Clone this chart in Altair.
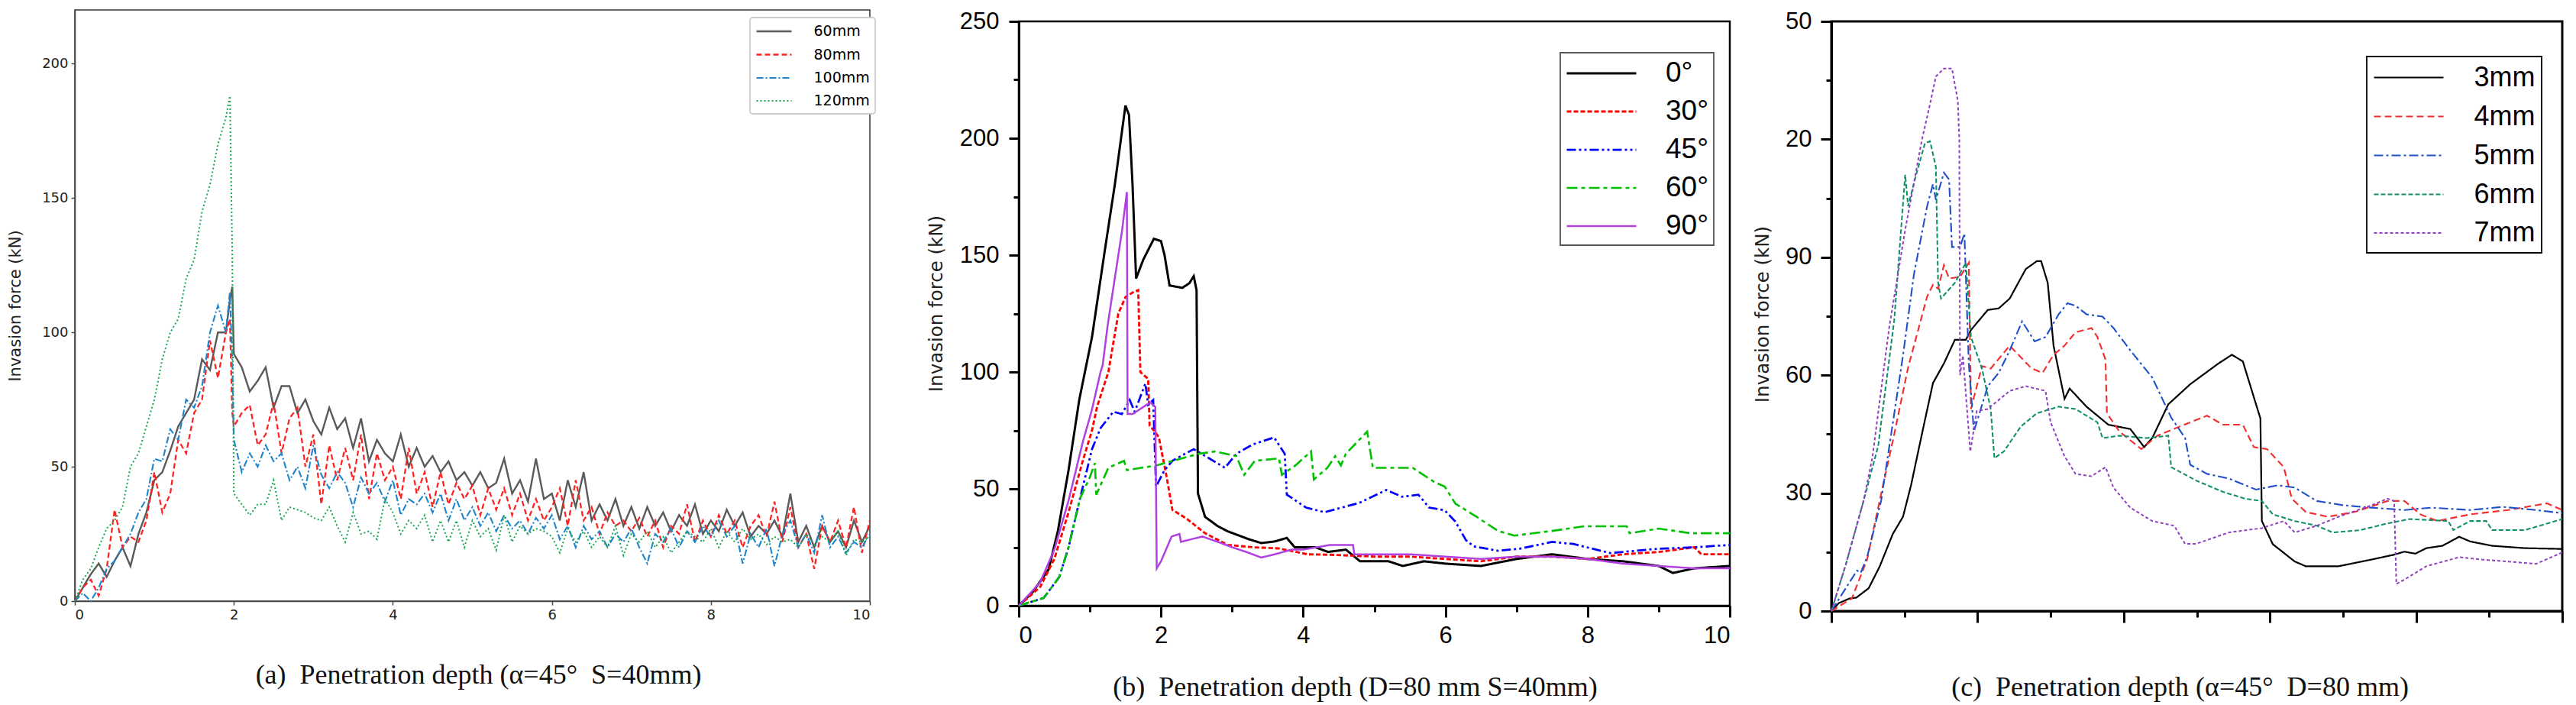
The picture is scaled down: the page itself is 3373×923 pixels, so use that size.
import altair as alt
import pandas as pd

# ---------------- Panel (a) ----------------
A_SERIES = ["60mm", "80mm", "100mm", "120mm"]
A_X = [0, 0.1, 0.2, 0.3, 0.4, 0.5, 0.6, 0.7, 0.8, 0.9, 1.0, 1.1, 1.2, 1.3, 1.4, 1.5, 1.6, 1.7, 1.8, 1.9,
       1.95, 1.98,
       2.0, 2.1, 2.2, 2.3, 2.4, 2.5, 2.6, 2.7, 2.8, 2.9,
       3.0, 3.1, 3.2, 3.3, 3.4, 3.5, 3.6, 3.7, 3.8, 3.9,
       4.0, 4.1, 4.2, 4.3, 4.4, 4.5, 4.6, 4.7, 4.8, 4.9,
       5.0, 5.1, 5.2, 5.3, 5.4, 5.5, 5.6, 5.7, 5.8, 5.9,
       6.0, 6.1, 6.2, 6.3, 6.4, 6.5, 6.6, 6.7, 6.8, 6.9,
       7.0, 7.1, 7.2, 7.3, 7.4, 7.5, 7.6, 7.7, 7.8, 7.9,
       8.0, 8.1, 8.2, 8.3, 8.4, 8.5, 8.6, 8.7, 8.8, 8.9,
       9.0, 9.1, 9.2, 9.3, 9.4, 9.5, 9.6, 9.7, 9.8, 9.9,
       10.0]
A_60 = [0, 5, 10, 14, 9, 15, 20, 13, 25, 33, 45, 48, 56, 65, 70, 75, 90, 86, 100, 100,
        112, 117,
        92, 87, 78, 82, 87, 72, 80, 80, 70, 75,
        67, 62, 72, 64, 68, 57, 68, 52, 60, 55,
        52, 62, 50, 57, 50, 54, 48, 52, 45, 48,
        43, 48, 42, 44, 53, 40, 45, 37, 53, 38,
        40, 30, 45, 35, 48, 30, 36, 30, 38, 28,
        35, 27, 35, 28, 33, 26, 32, 28, 36, 25,
        30, 26, 34, 28, 33, 24, 28, 25, 30, 24,
        40, 22, 28, 20, 28, 22, 26, 20, 30, 22,
        28]
A_80 = [0, 5, 8, 2, 12, 34, 20, 24, 22, 30, 48, 33, 40, 60, 55, 70, 75, 97, 83, 100,
        105, 70,
        65, 70, 73, 58, 62, 74, 55, 68, 72, 50,
        62, 36, 58, 45, 57, 45, 62, 38, 55, 45,
        50, 38, 57, 40, 48, 35, 48, 36, 44, 38,
        43, 32, 42, 34, 42, 32, 40, 30, 38, 30,
        35, 42, 28, 45, 30, 35, 25, 33, 28, 30,
        26, 31, 24, 30, 20, 28, 25, 36, 22, 30,
        24, 32, 25, 30, 20, 28, 32, 24, 37, 22,
        35, 20, 25, 12, 28, 22, 30, 20, 35, 18,
        30]
A_100 = [0, 3, 0, 5, 12, 15, 20, 25, 33, 38, 53, 52, 64, 60, 75, 72, 80, 100, 110, 100,
         115, 90,
         60, 48, 55, 50, 58, 52, 55, 45, 50, 42,
         58, 47, 42, 48, 44, 35, 46, 40, 44, 37,
         45, 32, 38, 36, 40, 33, 40, 30, 38, 30,
         35, 28, 33, 26, 32, 27, 30, 25, 31, 27,
         32, 23, 28, 20, 28, 23, 26, 20, 25, 22,
         27, 20, 14, 25, 22, 27, 20, 26, 22, 28,
         24, 30, 24, 28, 14, 25, 20, 27, 13, 25,
         30, 20, 25, 18, 32, 20, 24, 18, 22, 20,
         25]
A_120 = [0, 8, 12, 20, 27, 30, 35, 50, 55, 65, 75, 90, 100, 105, 120, 127, 145, 155, 170, 180,
         188, 130,
         40, 36, 32, 36, 36, 45, 30, 35, 34, 33,
         31, 30, 35, 28, 22, 33, 25, 26, 23, 38,
         33, 25, 30, 27, 32, 22, 30, 22, 30, 20,
         30, 24, 27, 19, 32, 22, 28, 25, 27, 26,
         24, 18, 27, 22, 26, 20, 24, 20, 28, 17,
         25, 22, 26, 20, 24, 18, 22, 26, 24, 22,
         27, 20, 26, 22, 27, 23, 25, 21, 24, 22,
         23, 20, 25, 21, 24, 22, 26, 17, 23, 22,
         24]
A_COLORS = ["#5a5a5a", "#ff2222", "#1f86cc", "#18a850"]
A_DASHES = [[1, 0], [7, 4], [9, 3, 2, 3], [2, 3]]
A_WIDTHS = [2.4, 2, 2, 2]

# ---------------- Panel (b) ----------------
B_SERIES = ["0°", "30°", "45°", "60°", "90°"]
B_0_X = [0, 0.2, 0.42, 0.55, 0.7, 0.85, 1.03, 1.2, 1.35, 1.5, 1.55, 1.6, 1.65, 1.75, 1.9, 2.0, 2.05, 2.12,
         2.3, 2.4, 2.46, 2.5, 2.52, 2.62, 2.8, 2.94, 3.23, 3.41, 3.6, 3.77, 3.88, 4.17, 4.35, 4.6, 4.8,
         5.2, 5.4, 5.7, 6.0, 6.5, 7.0, 7.5, 8.0, 8.5, 9.0, 9.2, 9.5, 10]
B_0_Y = [0, 6, 15.6, 32, 58, 88, 115, 150, 180, 214, 210, 180, 140, 148, 157, 156, 150, 137,
         136, 138, 141, 135, 48, 38, 34, 31.8, 28.5, 26.8, 27.5, 29, 25, 25, 23, 24, 19,
         19, 17, 19, 18, 17, 20, 22, 20, 19, 17, 14, 16, 17]
B_30_X = [0, 0.3, 0.5, 0.7, 0.9, 1.03, 1.1, 1.26, 1.4, 1.5, 1.6, 1.68, 1.71, 1.82, 1.84, 1.9, 1.97, 2.08,
          2.16, 2.27, 2.37, 2.62, 2.94, 3.3, 3.66, 4.06, 4.38, 5.0, 5.5, 6.0, 6.5, 7.0, 7.5, 8.0, 8.5,
          9.0, 9.5, 9.6, 10]
B_30_Y = [0, 8, 20, 40, 62, 75, 85, 100, 125, 132, 134, 135, 100, 97, 77, 75, 72, 55,
          41, 39, 37, 31, 26, 25, 24.5, 22, 21.8, 21, 21, 20, 19, 21, 21, 20, 22,
          23, 25, 22, 22]
B_45_X = [0, 0.35, 0.57, 0.7, 0.86, 1.03, 1.15, 1.33, 1.45, 1.56, 1.63, 1.78, 1.82, 1.89, 1.93, 2.05,
          2.16, 2.46, 2.68, 2.9, 3.06, 3.29, 3.59, 3.74, 3.77, 4.04, 4.3, 4.79, 5.17, 5.39, 5.62, 5.77,
          5.99, 6.14, 6.29, 6.4, 6.74, 7.05, 7.5, 7.8, 8.32, 9.0, 9.5, 10]
B_45_Y = [0, 3.3, 12.3, 25, 45.8, 67, 76, 83, 82, 88, 83, 95, 86, 88, 51, 58,
          62, 67, 63, 59, 65, 69, 72, 65, 47.5, 42, 40, 44, 49.5, 46.6, 47.5, 42,
          40.8, 36, 28, 25.4, 23.5, 24.4, 27.3, 26.4, 22.5, 24.4, 25, 26]
B_60_X = [0, 0.35, 0.57, 0.7, 0.86, 1.0, 1.07, 1.09, 1.26, 1.48, 1.52, 1.93, 2.53, 2.76, 3.06, 3.17,
          3.32, 3.66, 3.7, 3.89, 4.11, 4.15, 4.34, 4.45, 4.53, 4.6, 4.9, 4.98, 5.54, 5.84, 5.99,
          6.14, 6.44, 6.74, 6.97, 7.5, 7.95, 8.55, 8.59, 9.0, 9.45, 10]
B_60_Y = [0, 3.3, 12.3, 25, 45.8, 55, 61, 47.5, 59, 62, 58, 60, 65, 66, 64, 56,
          62, 63, 56, 60, 66, 54, 59, 64, 60, 65, 74.5, 59, 59, 53, 51,
          43.7, 38, 32, 30, 32, 34, 34, 31, 33, 31, 31]
B_90_X = [0, 0.3, 0.5, 0.7, 0.9, 1.03, 1.15, 1.18, 1.25, 1.35, 1.45, 1.52, 1.53, 1.6, 1.7, 1.85, 1.92,
          1.94, 2.0, 2.15, 2.26, 2.28, 2.58, 2.8, 3.0, 3.2, 3.41, 3.6, 3.84, 4.0, 4.38, 4.7, 4.72,
          5.0, 5.5, 6.0, 6.5, 7.0, 7.5, 8.0, 8.5, 9.0, 9.5, 10]
B_90_Y = [0, 10, 24, 45, 70, 84, 100, 103, 120, 140, 160, 177, 82, 82, 84, 87, 85,
          16, 19, 29.6, 30.7, 27.3, 29.6, 27.3, 25, 23, 20.6, 22, 24, 24, 26, 26, 22,
          22, 22, 21, 20, 21, 21, 20, 18, 17, 16, 16]
B_COLORS = ["#000000", "#ff0000", "#0000ff", "#00c000", "#b040e0"]
B_DASHES = [[1, 0], [6, 3], [12, 4, 3, 4, 3, 4], [14, 5, 5, 5], [1, 0]]
B_WIDTHS = [3, 2.5, 2.5, 2.5, 2]

# ---------------- Panel (c) ----------------
C_SERIES = ["3mm", "4mm", "5mm", "6mm", "7mm"]
C_3_X = [0, 0.1, 0.25, 0.34, 0.51, 0.66, 0.84, 0.98, 1.09, 1.25, 1.39, 1.54, 1.69, 1.84, 1.91, 2.14, 2.29,
         2.44, 2.66, 2.81, 2.87, 2.96, 3.04, 3.19, 3.26, 3.49, 3.79, 4.09, 4.28, 4.39, 4.61, 4.91, 5.29,
         5.48, 5.63, 5.81, 5.87, 5.89, 6.04, 6.34, 6.49, 6.94, 7.39, 7.69, 7.84, 7.99, 8.14, 8.36, 8.59,
         8.74, 9.04, 9.49, 10]
C_3_Y = [0, 2, 3.2, 3.4, 5.8, 11.3, 19.6, 24, 32, 46, 58, 63, 69, 69, 71.5, 76.6, 77,
         79.5, 87, 89, 89, 83.5, 67.5, 54, 56.6, 52, 47.4, 46.3, 41.7, 44, 52.6, 57.7, 62.9,
         65.2, 63.5, 52.6, 49, 22.9, 17, 12.6, 11.4, 11.4, 13.1, 14.3, 15.1, 14.6, 16, 16.6, 18.9,
         17.7, 16.6, 16, 15.8]
C_4_X = [0, 0.28, 0.49, 0.66, 0.86, 1.05, 1.31, 1.39, 1.46, 1.54, 1.61, 1.76, 1.88, 1.91, 2.06, 2.18,
         2.44, 2.59, 2.74, 2.89, 3.04, 3.19, 3.34, 3.56, 3.64, 3.75, 3.77, 3.94, 4.24, 4.46, 4.76, 5.14,
         5.36, 5.63, 5.78, 5.96, 6.19, 6.3, 6.49, 6.79, 7.16, 7.61, 7.84, 8.06, 8.29, 8.74, 9.26, 9.79, 10]
C_4_Y = [0, 3.2, 13.2, 28, 45, 62, 80, 83, 82, 88, 84.6, 85, 88.6, 51.4, 62.3, 61.7,
         67.5, 64.6, 61.7, 60.6, 65.2, 67.5, 70.9, 72, 69.7, 64, 50.3, 45.7, 41.2, 44.6, 46.9, 49.7,
         47.4, 47.4, 41.7, 41.2, 36.6, 28.6, 25.2, 24, 25.2, 28, 28, 24.6, 22.9, 24.6, 25.7, 27.4, 25.7]
C_5_X = [0, 0.35, 0.4, 0.49, 0.68, 0.98, 1.13, 1.31, 1.39, 1.43, 1.54, 1.61, 1.65, 1.76, 1.82, 1.88, 1.95,
         2.14, 2.29, 2.44, 2.61, 2.78, 2.93, 3.11, 3.23, 3.34, 3.49, 3.71, 3.86, 4.09, 4.39, 4.65, 4.84,
         4.91, 5.14, 5.44, 5.81, 6.11, 6.34, 6.64, 7.01, 7.39, 7.84, 8.21, 8.74, 9.19, 9.64, 10]
C_5_Y = [0, 10.3, 9.7, 13.8, 28, 65, 85.7, 103, 108.6, 104.6, 111.5, 109.8, 92.6, 92.6, 96, 62.9, 45.7,
         57.2, 60.6, 66.3, 73.7, 68.6, 69.7, 75.5, 78.3, 77.7, 75.5, 74.9, 72, 66.3, 59.4, 49.2, 44,
         37.2, 34.9, 33.7, 30.9, 32, 31.4, 28, 26.9, 26.3, 25.7, 26.3, 25.7, 26.5, 25.7, 24.9]
C_6_X = [0, 0.2, 0.44, 0.64, 0.86, 1.01, 1.05, 1.16, 1.28, 1.35, 1.43, 1.46, 1.5, 1.69, 1.84, 1.91, 2.06,
         2.18, 2.23, 2.36, 2.59, 2.81, 3.11, 3.34, 3.64, 3.71, 3.94, 4.31, 4.61, 4.65, 4.99, 5.36, 5.66,
         5.89, 6.04, 6.34, 6.64, 6.86, 7.24, 7.61, 7.91, 8.44, 8.51, 8.74, 8.96, 9.04, 9.49, 10]
C_6_Y = [0, 12, 28, 42, 74, 111, 103, 111, 119, 119.5, 113, 83.5, 79.5, 83.5, 88.6, 69.7, 61.7,
         51.4, 38.9, 40.6, 46.9, 50.3, 52, 51.4, 48, 44, 44.6, 44, 44.6, 36.6, 33.2, 30.3, 28.6,
         28, 24.6, 22.9, 21.7, 20, 20.6, 22.3, 23.4, 22.9, 20.6, 22.9, 22.9, 20.6, 20.6, 23.4]
C_7_X = [0, 0.2, 0.44, 0.56, 0.79, 1.01, 1.24, 1.35, 1.43, 1.54, 1.65, 1.73, 1.75, 1.76, 1.8, 1.9, 1.99,
         2.14, 2.44, 2.66, 2.93, 3.0, 3.19, 3.34, 3.56, 3.75, 3.86, 4.09, 4.39, 4.69, 4.84, 4.99, 5.44,
         5.89, 6.19, 6.34, 6.64, 6.94, 7.39, 7.61, 7.7, 7.73, 7.84, 8.14, 8.59, 8.89, 9.26, 9.64, 10]
C_7_Y = [0, 12, 28, 38.9, 72, 97, 120, 129, 136, 138, 138, 129.8, 120, 60, 65, 40.6, 50.9,
         51.4, 56, 57.2, 56, 48, 39.4, 34.9, 34.3, 36.6, 31.4, 26.3, 22.9, 21.7, 17.1, 17.1, 20,
         21.1, 22.9, 20, 21.7, 24, 26.9, 28.6, 28, 6.9, 8, 11.4, 13.7, 13.1, 12.6, 12, 14.9]
C_COLORS = ["#000000", "#f03030", "#2050c8", "#10906a", "#9040c0"]
C_DASHES = [[1, 0], [9, 5], [12, 4, 3, 4], [6, 3], [4, 3]]
C_WIDTHS = [2.2, 2, 2, 2, 2]


def make_df(series, xs_list, ys_list):
    rows = []
    for name, xs, ys in zip(series, xs_list, ys_list):
        for x, y in zip(xs, ys):
            rows.append({"x": x, "y": y, "s": name})
    return pd.DataFrame(rows)


df_a = make_df(A_SERIES, [A_X] * 4, [A_60, A_80, A_100, A_120])
df_b = make_df(B_SERIES, [B_0_X, B_30_X, B_45_X, B_60_X, B_90_X],
               [B_0_Y, B_30_Y, B_45_Y, B_60_Y, B_90_Y])
df_c = make_df(C_SERIES, [C_3_X, C_4_X, C_5_X, C_6_X, C_7_X],
               [C_3_Y, C_4_Y, C_5_Y, C_6_Y, C_7_Y])

TITLE_FONT = "Liberation Serif"
CAP_SIZE = 36


def line_legend(x, y, font, font_size, sym_len, label_gap, row_gap, pad, stroke, radius):
    # a wide horizontal stroke symbol whose nominal size equals the label font size,
    # so that the entry rows are as tall as the text and the symbol keeps its length
    half = sym_len / font_size
    return alt.Legend(title=None, orient="none", legendX=x, legendY=y,
                      symbolType=f"M{-half:.3f},0H{half:.3f}", symbolSize=font_size * font_size,
                      symbolOffset=sym_len / 2 - font_size / 2,
                      labelOffset=sym_len + label_gap - font_size,
                      labelFont=font, labelFontSize=font_size, labelColor="#000",
                      rowPadding=row_gap - font_size, padding=pad, strokeColor=stroke,
                      fillColor="white", cornerRadius=radius)


def panel(df, series, colors, dashes, widths, x_axis, y_axis, y_dom, legend, w, h, vstroke, vwidth):
    return alt.Chart(df).mark_line(strokeCap="butt", strokeJoin="miter").encode(
        x=alt.X("x:Q", scale=alt.Scale(domain=[0, 10], nice=False, zero=False), axis=x_axis),
        y=alt.Y("y:Q", scale=alt.Scale(domain=y_dom, nice=False), axis=y_axis),
        color=alt.Color("s:O", scale=alt.Scale(domain=series, range=colors), legend=legend, sort=series),
        strokeDash=alt.StrokeDash("s:O", scale=alt.Scale(domain=series, range=dashes), legend=legend, sort=series),
        strokeWidth=alt.StrokeWidth("s:O", scale=alt.Scale(domain=series, range=widths), legend=legend, sort=series),
        detail="s:N",
    ).properties(width=w, height=h, view=alt.ViewBackground(stroke=vstroke, strokeWidth=vwidth, fill="white"))


# ---- axes (a)
ax_a_x = alt.Axis(values=[0, 2, 4, 6, 8, 10], format="d", grid=False,
                  labelFont="DejaVu Sans", labelFontSize=18, labelColor="#222", labelPadding=4,
                  tickSize=5, tickColor="#444", tickWidth=1.5, domainColor="#444", domainWidth=1.5,
                  title="(a)\u00a0\u00a0Penetration depth (α=45°\u00a0\u00a0S=40mm)",
                  titleFont=TITLE_FONT, titleFontSize=CAP_SIZE, titleFontWeight="normal", titleColor="#111",
                  titleX=528, titleY=107, titleAlign="center", titleBaseline="alphabetic", titleAngle=0)
ax_a_y = alt.Axis(values=[0, 50, 100, 150, 200], format="d", grid=False,
                  labelFont="DejaVu Sans", labelFontSize=18, labelColor="#222", labelPadding=4,
                  tickSize=5, tickColor="#444", tickWidth=1.5, domainColor="#444", domainWidth=1.5,
                  title="Invasion force (kN)", titleFont="DejaVu Sans", titleFontSize=21,
                  titleFontWeight="normal", titleColor="#222",
                  titleX=-78, titleY=387, titleAngle=270, titleAlign="center", titleBaseline="middle")
leg_a = line_legend(884, 10, "DejaVu Sans", 19, 46, 14, 28.5, 7, "#cccccc", 4)

# ---- axes (b)
maj2 = "datum.value % 2 === 0"
ax_b_x = alt.Axis(values=[0, 1, 2, 3, 4, 5, 6, 7, 8, 9, 10], grid=False,
                  labelExpr=f"{maj2} ? datum.label : ''",
                  labelFont="Liberation Sans", labelFontSize=31, labelColor="#000", labelPadding=9,
                  tickSize={"condition": {"test": maj2, "value": 15}, "value": 8},
                  tickColor="#000", tickWidth=3, domainColor="#000", domainWidth=3,
                  title="(b)\u00a0\u00a0Penetration depth (D=80 mm S=40mm)",
                  titleFont=TITLE_FONT, titleFontSize=CAP_SIZE, titleFontWeight="normal", titleColor="#111",
                  titleX=440, titleY=117, titleAlign="center", titleBaseline="alphabetic", titleAngle=0)
maj50 = "datum.value % 50 === 0"
ax_b_y = alt.Axis(values=[0, 25, 50, 75, 100, 125, 150, 175, 200, 225, 250], grid=False,
                  labelExpr=f"{maj50} ? datum.label : ''",
                  labelFont="Liberation Sans", labelFontSize=31, labelColor="#000", labelPadding=13,
                  tickSize={"condition": {"test": maj50, "value": 13}, "value": 7},
                  tickColor="#000", tickWidth=3, domainColor="#000", domainWidth=3,
                  title="Invasion force (kN)", titleFont="DejaVu Sans", titleFontSize=24.5,
                  titleFontWeight="normal", titleColor="#222",
                  titleX=-108, titleY=369, titleAngle=270, titleAlign="center", titleBaseline="middle")
leg_b = line_legend(709, 41, "Liberation Sans", 37, 91, 10, 49, 7, "#555555", 0)

# ---- axes (c)
ax_c_x = alt.Axis(values=[0, 1, 2, 3, 4, 5, 6, 7, 8, 9, 10], grid=False, labels=False,
                  tickSize={"condition": {"test": maj2, "value": 15}, "value": 8},
                  tickColor="#000", tickWidth=3, domainColor="#000", domainWidth=3,
                  title="(c)\u00a0\u00a0Penetration depth (α=45°\u00a0\u00a0D=80\u00a0mm)",
                  titleFont=TITLE_FONT, titleFontSize=CAP_SIZE, titleFontWeight="normal", titleColor="#111",
                  titleX=456, titleY=110, titleAlign="center", titleBaseline="alphabetic", titleAngle=0)
maj30 = "datum.value % 30 === 0"
ax_c_y = alt.Axis(values=[0, 15, 30, 45, 60, 75, 90, 105, 120, 135, 150], grid=False,
                  labelExpr=("datum.value === 120 ? '20' : datum.value === 150 ? '50' : "
                             f"({maj30} ? datum.label : '')"),
                  labelFont="Liberation Sans", labelFontSize=31, labelColor="#000", labelPadding=12,
                  tickSize={"condition": {"test": maj30, "value": 14}, "value": 7},
                  tickColor="#000", tickWidth=3, domainColor="#000", domainWidth=3,
                  title="Invasion force (kN)", titleFont="DejaVu Sans", titleFontSize=24.5,
                  titleFontWeight="normal", titleColor="#222",
                  titleX=-90, titleY=383, titleAngle=270, titleAlign="center", titleBaseline="middle")
leg_c = line_legend(701, 46, "Liberation Sans", 36, 91, 11, 49, 8, "#000000", 0)

pa = panel(df_a, A_SERIES, A_COLORS, A_DASHES, A_WIDTHS, ax_a_x, ax_a_y, [0, 220], leg_a,
           1041, 774, "#333333", 1.5)
pb = panel(df_b, B_SERIES, B_COLORS, B_DASHES, B_WIDTHS, ax_b_x, ax_b_y, [0, 250], leg_b,
           931, 765, "#000000", 2.5)
pc = panel(df_c, C_SERIES, C_COLORS, C_DASHES, C_WIDTHS, ax_c_x, ax_c_y, [0, 150], leg_c,
           957, 772, "#000000", 3)

RES = dict(x="independent", y="independent", color="independent",
           strokeDash="independent", strokeWidth="independent")
LEG = dict(color="independent", strokeDash="independent", strokeWidth="independent")

# an empty 1px strip above panels (b) and (c) so that their frames start lower than (a)'s
spacer = alt.Chart(pd.DataFrame({"v": [0]})).mark_point(opacity=0, size=1).encode(
    x=alt.value(0), y=alt.value(0)
).properties(width=1, height=1, view=alt.ViewBackground(stroke="transparent", fill="transparent"))

right = alt.hconcat(pb, pc, spacing=20).resolve_scale(**RES).resolve_legend(**LEG)
right_col = alt.vconcat(spacer, right, spacing=-5)
chart = alt.hconcat(pa, right_col, spacing=63).resolve_scale(**RES).resolve_legend(**LEG).properties(
    padding={"left": 0, "top": 2, "right": 0, "bottom": 0}, background="white"
).configure_view(stroke=None).configure_legend(strokeWidth=1.8)

chart.save("out.html", embed_options={"renderer": "svg", "actions": False})
